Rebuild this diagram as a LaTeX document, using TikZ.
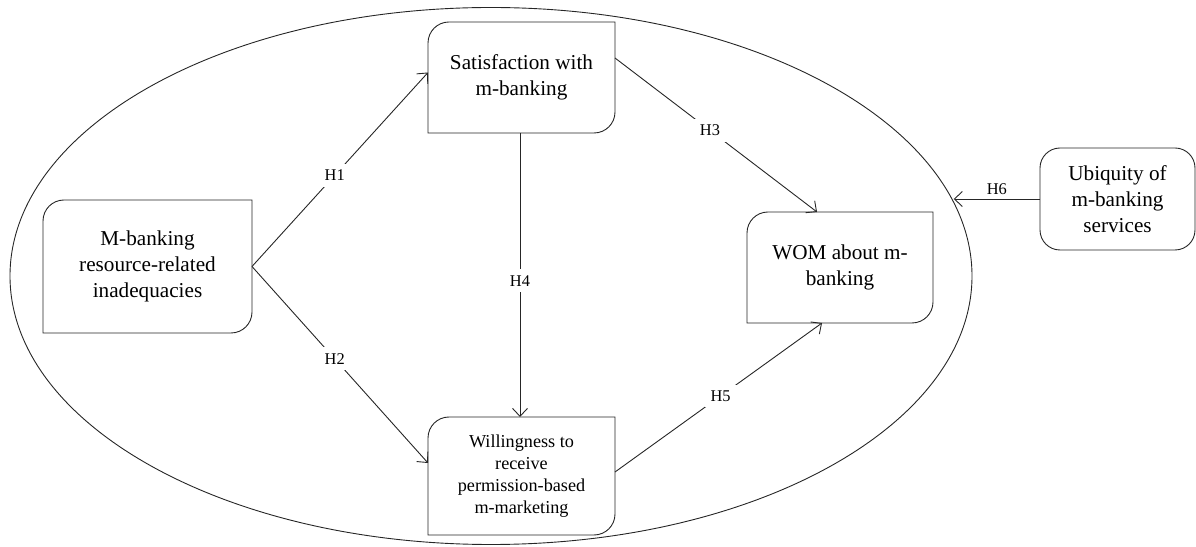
\documentclass[tikz,border=0pt]{standalone}
\usepackage{fontspec}
\setmainfont{Liberation Serif}
\usetikzlibrary{arrows.meta,shapes.geometric}
\newcommand\snipbox[1]{\draw[boxline] ([xshift=21pt]#1.north west) -- (#1.north east) -- ([yshift=21pt]#1.south east) arc[start angle=0,end angle=-90,radius=21pt] -- (#1.south west) -- ([yshift=-21pt]#1.north west) arc[start angle=180,end angle=90,radius=21pt] -- cycle;}
\tikzset{
  boxline/.style={line width=0.9pt, draw=black!85},
  txtbox/.style={rectangle, inner sep=0pt, outer sep=0pt, align=center, font=\fontsize{21.2}{26}\selectfont},
  lbl/.style={fill=white, inner sep=6pt, font=\fontsize{16.4}{19}\selectfont},
  conn/.style={line width=0.9pt, draw=black!85, -{Straight Barb[length=8pt,width=15pt]}},
}
\begin{document}
\begin{tikzpicture}[x=1pt,y=1pt]
\useasboundingbox (0,0) rectangle (1196,546);
\node[ellipse, draw=black!85, line width=0.9pt, minimum width=962pt, minimum height=537pt, inner sep=0pt, outer sep=0pt] (ell) at (491,270) {};
\node[txtbox, minimum width=187pt, minimum height=111pt] (sat) at (521.5,468.5) {Satisfaction with\\m-banking};
\node[txtbox, minimum width=209pt, minimum height=133pt] (mb) at (147.5,279.5) {M-banking\\resource-related\\inadequacies};
\node[txtbox, minimum width=186pt, minimum height=111pt] (wom) at (840,278.5) {WOM about m-\\banking};
\node[txtbox, minimum width=187pt, minimum height=118pt, font=\fontsize{18.2}{22}\selectfont] (will) at (521.5,70) {Willingness to\\receive\\permission-based\\m-marketing};
\node[txtbox, minimum width=155pt, minimum height=102pt, draw=black!85, line width=0.9pt, rounded corners=20pt] (ubiq) at (1117.5,347) {Ubiquity of\\m-banking\\services};
\snipbox{sat}
\snipbox{mb}
\snipbox{wom}
\snipbox{will}
\coordinate (h6end) at (ell.9.4 |- ubiq.west);
\draw[conn] (mb.east) -- node[lbl, pos=0.47] (h1) {H1} ([yshift=5pt]sat.west);
\draw[conn] (mb.east) -- node[lbl, pos=0.47] (h2) {H2} ([yshift=13pt]will.west);
\draw[conn] ([yshift=19.5pt]sat.east) -- node[lbl, pos=0.47] (h3) {H3} ([xshift=-23pt]wom.north);
\draw[conn] ([xshift=-1.5pt]sat.south) -- node[lbl, pos=0.52] (h4) {H4} ([xshift=-1.5pt]will.north);
\draw[conn] ([yshift=4pt]will.east) -- node[lbl, pos=0.51] (h5) {H5} ([xshift=-18pt]wom.south);
\draw[conn] (ubiq.west) -- node[above, inner sep=4pt, font=\fontsize{16.4}{19}\selectfont] (h6) {H6} (h6end);
\end{tikzpicture}
\end{document}
